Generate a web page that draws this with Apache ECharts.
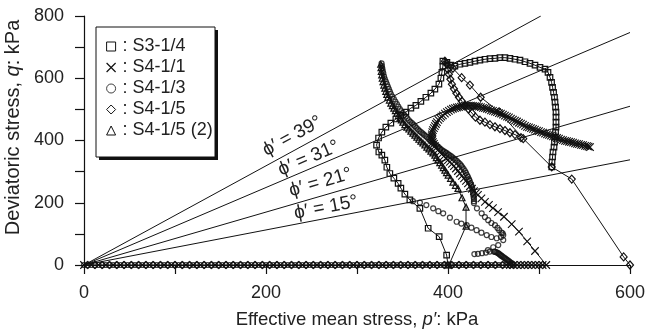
<!DOCTYPE html>
<html>
<head>
<meta charset="utf-8">
<script src="https://cdn.jsdelivr.net/npm/echarts@6/dist/echarts.min.js"></script>
<style>
  html, body { margin: 0; padding: 0; background: #fff; }
  #chart { width: 645px; height: 329px; }
</style>
</head>
<body>
<div id="chart"></div>
<script>
// Undrained stress paths in p'-q space with friction-angle lines.
const FONT = '"Liberation Sans", Arial, Helvetica, sans-serif';

const xTickLabels = [0, 200, 400, 600];
const yTickLabels = [0, 200, 400, 600, 800];
const seriesNames = ['S3-1/4', 'S4-1/1', 'S4-1/3', 'S4-1/5', 'S4-1/5 (2)'];

// Friction-angle lines through the origin: angle and end point (p', q) at the plot edge
const frictionAngles = ['39', '31', '21', '15'];
const frictionEnds = [[502, 800], [600, 747], [600, 510], [600, 338]];

// Isotropic consolidation points (q = 0)
const consolidationP_S413 = [0,4,8,12,16,20,24,28,32,36,40,44,48,52,56,60,64,68,72,76,80,84,88,92,96,100,104,108,112,116,120,124,128,132,136,140,144,148,152,156,160,164,168,172,176,180,184,188,192,196,200,204,208,212,216,220,224,228,232,236,240,244,248,252,256,260,264,268,272,276,280,284,288,292,296,300,304,308,312,316,320,324,328,332,336,340,344,348,352,356,360,364,368,372,376,380,384,388,392,396,400,404,408,412,416,420,424,428,432,436,440,444,448,452,456,460,464,468];
const consolidationP_S411 = [0,8,16,24,32,40,48,56,64,72,80,88,96,104,112,120,128,136,144,152,160,168,176,184,192,200,208,216,224,232,240,248,256,264,272,280,288,296,304,312,320,328,336,344,352,360,368,376,384,392,400,408,416,424,432,440,448,456,464,468,472,476,480,484,488,492,496,500,504,508];

// S3-1/4 shear path (p', q)
const pathS314 = [
  [400,0],[398.5,32],[390.3,91],[378.2,118],[369.1,182],[358.1,209],
  [352.6,228],[348.2,247],[345.2,262],[340.5,279],[336.1,294],[332.8,314],[330.6,337],[327.3,353],[324,363],
  [321.5,385],[323.7,408],[327.3,427],[331.7,443],[337.2,456],[342.7,469],[348.2,481],[353.7,491],[359.2,504],
  [364.7,513],[370.2,526],[375.7,539],[381.2,552],[385.6,565],[390,581],[392.2,600],[393.3,619],[394.4,639],[394.4,655],
  [398.8,651],[403.2,642],[407.6,639],[413.1,645],[418.6,648],[424.1,651],[429.6,655],[435.1,658],[440.6,661],
  [446.1,663],[451.6,664],[457.1,666],[462.6,666],[468.1,664],[473.6,661],[479.1,658],[484.6,653],[490.1,648],
  [495.6,642],[501.1,635],[506.6,629],[509.9,619],
  [512.1,603],[513.8,587],[514.9,571],[516,555],[517,539],[517.6,523],[518.2,507],[518.7,491],[518.7,475],
  [518.7,459],[518.7,443],[518.2,427],[517.6,411],[517,395],[516.5,379],[515.4,363],[514.9,347],[514.3,331],[514,315]
];

// S4-1/1 shear path (p', q)
const pathS411 = [
  [495.6,45],[487,76],[478,107],[470,131],[461.5,155],[455,170],[449.4,183],[445,193],[440.6,203],[436.7,214],[432.9,225],
  [430.7,231],[428.5,237],[426.3,245],[424.1,253],[421.9,262],[419.7,270],[417.5,278],[415.3,286],[413.1,294],[410.9,302],
  [408.7,310],[406.5,318],[404.3,325],[402.1,331],[399.9,337],[397.7,343],[395.5,350],[393.3,356],[391.1,363],[388.9,369],
  [387.2,376],[385.6,382],[384.5,389],[383.4,395],[382.8,402],[382.3,408],[382.2,414],[382.3,420],[382.8,427],[383.4,433],
  [384.5,440],[385.6,446],[386.7,453],[387.8,459],[389.4,466],[391.1,472],[392.7,477],[394.4,481],[396.6,486],[398.8,491],
  [401,495],[403.2,499],[405.4,502],[407.6,504],[409.8,506],[412,507],[414.2,509],[416.4,510],[418.6,511],[420.8,512],
  [423,512],[425.2,512],[427.4,511],[429.6,510],[431.8,510],[434,509],[436.2,507],[438.4,505],[440.6,504],[442.8,502],
  [445,500],[447.2,497],[449.4,495],[451.6,493],[453.8,491],[456,488],[458.2,486],[460.4,483],[462.6,480],[464.8,477],
  [467,474],[469.2,470],[471.4,467],[473.6,464],[475.8,461],[478,457],[480.2,454],[482.4,451],[484.6,447],[486.8,444],
  [489,442],[491.2,440],[493.4,437],[495.6,435],[497.8,432],[500,430],[502.2,427],[504.4,425],[506.6,422],[508.8,420],
  [511,418],[513.2,416],[515.4,413],[517.6,411],[519.8,408],[522,406],[524.2,403],[526.4,401],[528.6,399],[530.8,398],
  [533,396],[535.2,395],[537.4,393],[539.6,391],[541.8,389],[544,388],[546.2,386],[548.4,385],[550.6,383],[552.8,382],
  [554.5,380],[556.1,379]
];

// S4-1/3 readings (p', q)
const pointsS413 = [
  [471.7,0],[470.8,2.5],[470,5],[469,7.3],[468,9.6],[467,12],[466,14.4],[464.8,16.7],[463.7,19],[462.6,21.5],[461.5,24],
  [460.2,26.5],[459,29],[458,31.3],[457,33.7],[456,36],[455,38.5],[453.8,40],[452.7,41.7],[451.6,42.5],[450.5,43],
  [446,43],[441.7,40],[437.3,38],[432.9,36],[429,35],
  [443.9,48],[449.7,57],[455.2,64],[460.7,80],[460.7,96],[458.2,90],[453.5,86],
  [361.4,205],[369.1,200.6],[376.2,192.5],[383.7,182],[389.4,173],[394.7,166],[402.1,152],[409.5,139],[414.7,133],
  [420.5,128],[425.7,120],[431.4,112],[436.7,104],[442.5,96],[447.7,90],
  [431.8,182],[437,166],[440.6,154],[444.2,144],[447.7,135],[451.6,128],[454.4,119],[456.3,112],[458.7,104],[460,102],
  [428.5,199],[428.5,205],[428.5,212],[428.2,218],[427.9,225],[427.7,231],[427.4,237],[426.9,244],[426.3,250],[425.5,257],
  [424.6,263],[423.8,270],[423,276],[421.9,283],[420.8,289],[419.7,296],[418.6,302],[417.2,308],[415.8,314],[414.5,319],
  [413.1,324],[411.5,329],[409.8,334],[408.2,338],[406.5,342],[404.9,346],[403.2,350],[401.5,353],[399.9,356],[398.2,360],
  [396.6,363],[395,366],[393.3,369],[391.6,373],[390,377],[388.3,381],[386.7,385],[385,389],[383.4,393],[381.7,397],
  [380.1,401],[378.5,406],[376.8,411],[375.1,415],[373.5,419],[371.9,423],[370.2,427],[368.5,431],[366.9,436],[365.2,441],
  [363.6,446],[362,451],[360.3,456],[358.6,460],[357,465],[355.3,471],[353.7,477],[352,482],[350.4,488],[348.7,494],
  [347.1,501],[345.4,509],[343.8,517],[342.1,525],[340.5,533],[338.8,541],[337.2,549],[336.1,557],[335,565],[333.9,573],
  [332.8,581],[331.7,589],[330.6,597],[329.7,606],[328.9,616],[328.3,624],[327.8,632],[327.4,640],[327,648]
];

// S4-1/5 shear path (p', q)
const pathS415 = [
  [600,0],[593,26],[536,276],[514,315],[482.7,406],[456.3,492],[435.9,539],[424.1,578],[415,602],[405.4,632],[396.6,655],
  [398.8,645],[399.9,629],[401,613],[402.6,597],[404.3,581],[406.5,566],[409.2,552],[412,539],[415.3,526],
  [418.6,513],[422.4,501],[426.3,488],[430.2,475],
  [435.1,465],[440.6,459],[446.1,451],[451.6,444],[457.1,438],[462.6,432],[468.1,425],[473.6,419],[480.2,409]
];

// S4-1/5 (2) shear path (p', q)
const pathS415b = [
  [401,0],[419.8,125],[419.8,186],[415.4,216],[411,246],[408.2,256],[405.4,266],[402.8,278],[400.2,289],[398.4,297],
  [396.6,305],[394.8,313],[393,321],[391,329],[388.9,337],[387.2,345],[385.6,353],[383.4,360],[381.2,366],[379,373],
  [376.8,379],[374.6,386],[372.4,392],[370.2,398],[368,404],[365.8,411],[363.6,417],[361.4,424],[359.2,430],[357,437],
  [354.8,443],[352.6,451],[350.4,459],[348.8,466],[347.1,472],[345.5,480],[343.8,488],[342.2,496],[340.5,504],[338.9,512],
  [337.2,520],[335.6,530],[333.9,539],[332.8,548],[331.7,558],[330.6,568],[329.5,578],[328.6,589],[327.8,600],[327.2,611],
  [326.7,622],[326.4,634],[326.1,645]
];

const CROSS = 'path://M0,0L10,10M10,0L0,10';
const INK = '#111';
const TEXT = '#222';
const markerStyle = { color: 'transparent', borderColor: INK, borderWidth: 1.2 };
const pathLine = { color: INK, width: 1 };

const chart = echarts.init(document.getElementById('chart'), null, { renderer: 'canvas' });

const frictionSeries = frictionEnds.map((end, i) => ({
  name: 'phi' + frictionAngles[i],
  type: 'line',
  data: [[0, 0], end],
  symbol: 'none',
  silent: true,
  lineStyle: { color: INK, width: 1 },
  z: 1
}));

const axisCommon = {
  axisLine: { show: true, onZero: false, lineStyle: { color: INK, width: 1.2 } },
  axisTick: { show: true, inside: false, length: 9, lineStyle: { color: INK, width: 1.2 } },
  splitLine: { show: false }
};

const option = {
  animation: false,
  backgroundColor: '#fff',
  textStyle: { fontFamily: FONT },
  grid: { left: 84, right: 15, top: 16, bottom: 64, containLabel: false, outerBoundsMode: 'none' },
  xAxis: Object.assign({
    type: 'value', min: 0, max: 600, interval: 100,
    name: 'Effective mean stress, {i|p′}: kPa',
    nameLocation: 'middle', nameGap: 45,
    nameTextStyle: {
      fontFamily: FONT, fontSize: 18.5, color: TEXT,
      rich: { i: { fontFamily: FONT, fontSize: 18.5, fontStyle: 'italic', color: TEXT } }
    },
    axisLabel: {
      margin: 19, fontFamily: FONT, fontSize: 18, color: TEXT,
      formatter: v => (xTickLabels.includes(v) ? String(v) : '')
    }
  }, axisCommon),
  yAxis: Object.assign({
    type: 'value', min: 0, max: 800, interval: 100,
    name: 'Deviatoric stress, {i|q}: kPa',
    nameLocation: 'middle', nameGap: 58,
    nameTextStyle: {
      fontFamily: FONT, fontSize: 20, color: TEXT, padding: [0, 0, 0, 26],
      rich: { i: { fontFamily: FONT, fontSize: 20, fontStyle: 'italic', color: TEXT } }
    },
    axisLabel: {
      margin: 20, fontFamily: FONT, fontSize: 18, color: TEXT,
      formatter: v => (yTickLabels.includes(v) ? String(v) : '')
    }
  }, axisCommon),
  legend: {
    orient: 'vertical', left: 106, top: 37, padding: 0,
    itemGap: 2, itemWidth: 9, itemHeight: 9,
    selectedMode: false, z: 6,
    textStyle: { fontFamily: FONT, fontSize: 18, color: TEXT, lineHeight: 19, padding: [0, 0, 0, 2] },
    formatter: n => ': ' + n,
    data: [
      { name: seriesNames[0], icon: 'rect', itemStyle: { color: 'transparent', borderColor: INK, borderWidth: 1 } },
      { name: seriesNames[1], icon: CROSS, itemStyle: { color: 'transparent', borderColor: INK, borderWidth: 1.2 } },
      { name: seriesNames[2], icon: 'circle', itemStyle: { color: 'transparent', borderColor: INK, borderWidth: 1 } },
      { name: seriesNames[3], icon: 'diamond', itemStyle: { color: 'transparent', borderColor: INK, borderWidth: 1 } },
      { name: seriesNames[4], icon: 'triangle', itemStyle: { color: 'transparent', borderColor: INK, borderWidth: 1 } }
    ]
  },
  series: frictionSeries.concat([
    {
      name: seriesNames[0], type: 'line', data: pathS314,
      symbol: 'rect', symbolSize: 5.5, itemStyle: markerStyle, lineStyle: pathLine, z: 2
    },
    {
      name: seriesNames[1], type: 'line',
      data: consolidationP_S411.map(p => [p, 0]).concat(pathS411),
      symbol: CROSS, symbolSize: 7.5, itemStyle: { color: 'transparent', borderColor: INK, borderWidth: 1.1 },
      lineStyle: pathLine, z: 2
    },
    {
      name: seriesNames[2], type: 'scatter',
      data: consolidationP_S413.map(p => [p, 0]).concat(pointsS413),
      symbol: 'circle', symbolSize: 5, itemStyle: markerStyle, z: 2
    },
    {
      name: seriesNames[3], type: 'line', data: pathS415,
      symbol: 'diamond', symbolSize: [7, 8], itemStyle: markerStyle, lineStyle: pathLine, z: 2
    },
    {
      name: seriesNames[4], type: 'line', data: pathS415b,
      symbol: 'triangle', symbolSize: 6, itemStyle: markerStyle, lineStyle: pathLine, z: 2
    }
  ])
};

chart.setOption(option);

// Legend frame with its offset shadow, and the friction-angle labels along each line
const labelCentres = [[229, 414], [247, 343], [260, 265], [266, 185]];
const origin = chart.convertToPixel({ gridIndex: 0 }, [0, 0]);
const frame = [
  { type: 'rect', z: 4, silent: true, shape: { x: 99, y: 30, width: 119, height: 130 }, style: { fill: INK } },
  { type: 'rect', z: 5, silent: true, shape: { x: 96, y: 27, width: 119, height: 130 }, style: { fill: '#fff', stroke: INK, lineWidth: 1 } }
];
const phiLabels = frictionAngles.map((a, i) => {
  const end = chart.convertToPixel({ gridIndex: 0 }, frictionEnds[i]);
  const c = chart.convertToPixel({ gridIndex: 0 }, labelCentres[i]);
  const ang = Math.atan2(origin[1] - end[1], end[0] - origin[0]);
  return {
    type: 'text', x: c[0], y: c[1], rotation: ang, silent: true, z: 5,
    style: {
      text: 'ϕ′ = ' + a + '°', fill: TEXT,
      font: '19px ' + FONT, align: 'center', verticalAlign: 'middle'
    }
  };
});
chart.setOption({ graphic: frame.concat(phiLabels) });
</script>
</body>
</html>
